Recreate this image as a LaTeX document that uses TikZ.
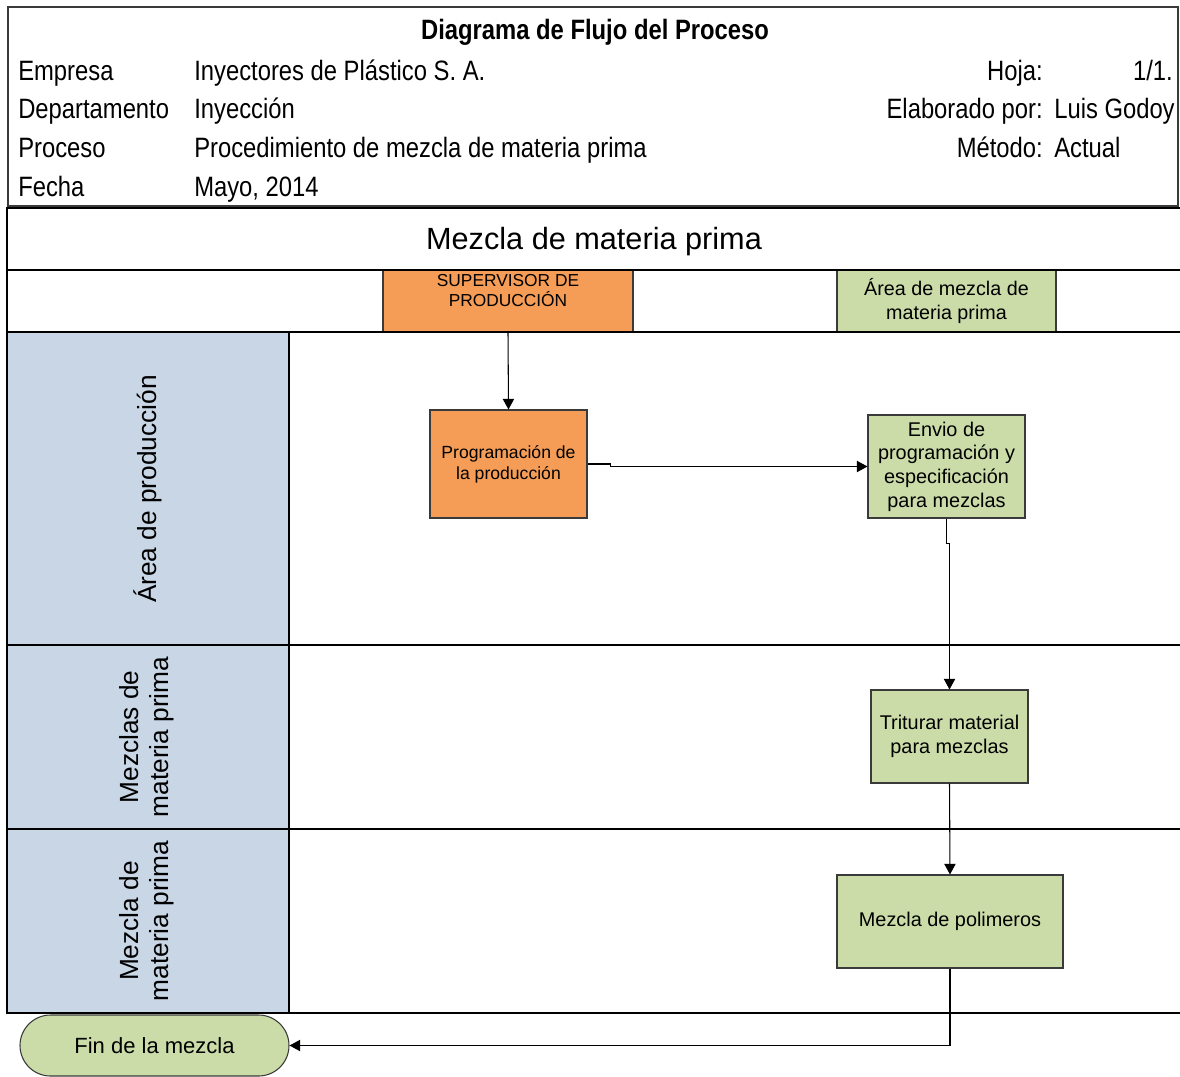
\documentclass[tikz,border=0pt]{standalone}
\usepackage{fontspec}
\setmainfont{Liberation Sans}
\newfontfamily\narrowf[FakeStretch=0.85]{Liberation Sans}
\usetikzlibrary{arrows.meta,shapes.misc,shadows}
\definecolor{orng}{HTML}{F59D56}
\definecolor{grn}{HTML}{CBDCA8}
\definecolor{lanebg}{HTML}{C8D6E5}
\definecolor{edge}{HTML}{3A3A3A}
\tikzset{
  hdr/.style={font=\narrowf\fontsize{21}{24}\selectfont, inner sep=0pt},
  hdrbold/.style={font=\narrowf\bfseries\fontsize{21}{24}\selectfont, inner sep=0pt},
  procbox/.style={draw=edge, line width=0.8pt, inner sep=0pt, align=center,
    drop shadow={shadow xshift=0.9pt, shadow yshift=-0.9pt, fill=black!45, opacity=0.8}},
  orangebox/.style={procbox, fill=orng, font=\fontsize{13.2}{15.8}\selectfont},
  greenbox/.style={procbox, fill=grn, font=\fontsize{14.9}{17.8}\selectfont},
  lanetxt/.style={rotate=90, align=center, font=\fontsize{19.7}{22.5}\selectfont, inner sep=0pt},
  frame/.style={draw=black, line width=1.1pt},
  arr/.style={draw=black, line width=0.8pt, -{Triangle[length=8pt,width=8.5pt]}}
}
\begin{document}
\begin{tikzpicture}[x=0.75pt,y=-0.75pt]
\useasboundingbox (0,0) rectangle (1180,1076);

% ---------- header ----------
\draw[draw=edge, line width=1.5pt] (8,7) rectangle (1178,206);
\node[hdrbold, anchor=base] (title) at (595,39) {Diagrama de Flujo del Proceso};
\node[hdr, anchor=base west] (l1) at (18,80) {Empresa};
\node[hdr, anchor=base west] (l2) at (18,118) {Departamento};
\node[hdr, anchor=base west] (l3) at (18,157) {Proceso};
\node[hdr, anchor=base west] (l4) at (18,196) {Fecha};
\node[hdr, anchor=base west] (v1) at (194,80) {Inyectores de Plástico S. A.};
\node[hdr, anchor=base west] (v2) at (194,118) {Inyección};
\node[hdr, anchor=base west] (v3) at (194,157) {Procedimiento de mezcla de materia prima};
\node[hdr, anchor=base west] (v4) at (194,196) {Mayo, 2014};
\node[hdr, anchor=base east] (r1) at (1043,80) {Hoja:};
\node[hdr, anchor=base east] (r1v) at (1173,80) {1/1.};
\node[hdr, anchor=base east] (r2) at (1043,118) {Elaborado por:};
\node[hdr, anchor=base west] (r2v) at (1054,118) {Luis Godoy};
\node[hdr, anchor=base east] (r3) at (1043,157) {Método:};
\node[hdr, anchor=base west] (r3v) at (1054,157) {Actual};

% ---------- swimlane frame ----------
\fill[lanebg] (8,332) rectangle (289,1013);
\draw[frame] (1180,208) -- (7,208) -- (7,1013) -- (1180,1013);
\draw[frame] (7,270) -- (1180,270);
\draw[frame] (7,645) -- (1180,645);
\draw[frame] (7,829) -- (1180,829);
\draw[frame] (289,332) -- (289,1013);
\node[font=\fontsize{23}{27}\selectfont, anchor=base, inner sep=0pt] (pooltitle) at (594,249) {Mezcla de materia prima};

% column headers
\node[draw=edge, line width=0.8pt, fill=orng, minimum width=187.5pt, minimum height=46.5pt, inner sep=0pt] (sup) at (508,301) {};
\node[draw=edge, line width=0.8pt, fill=grn, minimum width=164.25pt, minimum height=46.5pt, inner sep=0pt, align=center, font=\fontsize{14.8}{17.3}\selectfont] (area) at (946.5,301) {Área de mezcla de\\materia prima};
\draw[frame] (7,332) -- (1180,332);
\draw[frame] (7,270) -- (1180,270);
\node[font=\fontsize{13}{15}\selectfont, align=center, inner sep=0pt] (suptxt) at (508,291) {SUPERVISOR DE\\PRODUCCIÓN};

% lane labels
\node[lanetxt] (lane1) at (148,489) {Área de producción};
\node[lanetxt] (lane2) at (147,737) {Mezclas de\\materia prima};
\node[lanetxt] (lane3) at (147,921) {Mezcla de\\materia prima};

% ---------- process boxes ----------
\node[orangebox, minimum width=117.75pt, minimum height=81pt] (prog) at (508.5,464) {Programación de\\la producción};
\node[greenbox, minimum width=117.75pt, minimum height=77.25pt] (env) at (946.5,466.5) {Envio de\\programación y\\especificación\\para mezclas};
\node[greenbox, minimum width=117.75pt, minimum height=69.75pt] (trit) at (949.5,736.5) {Triturar material\\para mezclas};
\node[greenbox, minimum width=169.5pt, minimum height=69.75pt] (pol) at (950,921.5) {Mezcla de polimeros};
\node[rounded rectangle, draw=edge, line width=0.8pt, fill=grn, minimum width=201.75pt, minimum height=45.75pt, inner sep=0pt, font=\fontsize{16.5}{19}\selectfont] (fin) at (154.5,1045.5) {Fin de la mezcla};

% ---------- connectors ----------
\draw[arr] (sup.south) -- (prog.north);
\draw[arr] (prog.east) -- ++(23,0) |- (env.west);
\draw[arr] (env.south) -- ++(0,25) -| (trit.north);
\draw[arr] (trit.south) -- (pol.north);
\draw[arr] (pol.south) |- (fin.east);
\end{tikzpicture}
\end{document}
